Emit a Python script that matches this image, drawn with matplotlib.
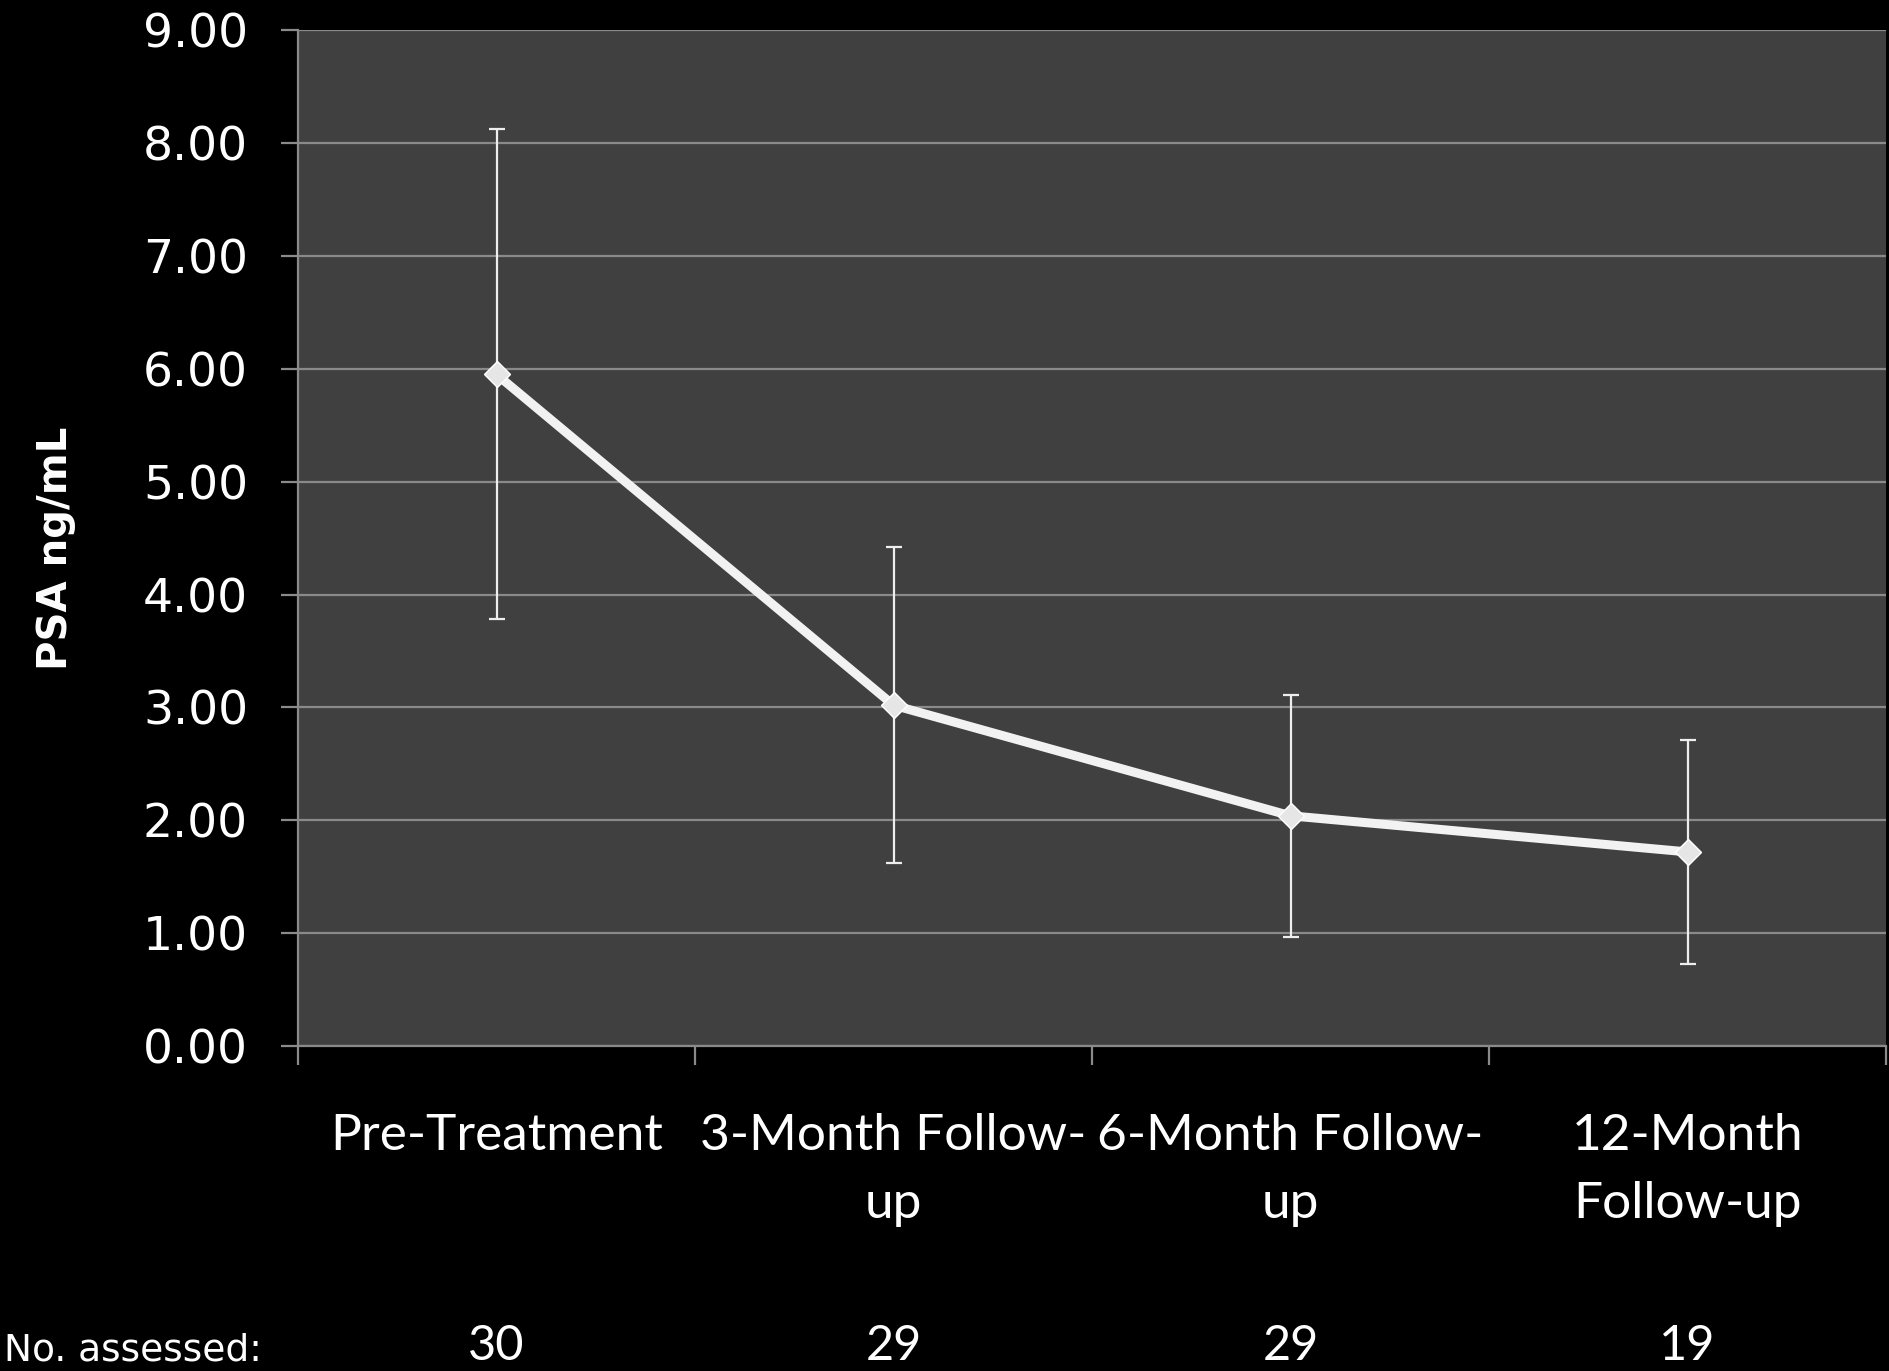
import numpy as np
import matplotlib.pyplot as plt
from matplotlib.transforms import blended_transform_factory

categories = ['Pre-Treatment', '3-Month Follow-\nup', '6-Month Follow-\nup', '12-Month\nFollow-up']
psa_mean = [5.95, 3.02, 2.04, 1.72]
psa_err = [2.17, 1.40, 1.07, 0.99]
n_assessed = ['30', '29', '29', '19']
yticks = [0, 1, 2, 3, 4, 5, 6, 7, 8, 9]

fig = plt.figure(figsize=(18.9, 13.71), dpi=100, facecolor='black')
ax = fig.add_axes([0.1577, 0.237, 0.8402, 0.741])
ax.set_facecolor('#404040')

x = np.arange(len(categories))
ax.errorbar(x, psa_mean, yerr=psa_err, fmt='none', ecolor='#eeeeee',
            elinewidth=1.6, capsize=6, capthick=1.6, zorder=3)
ax.plot(x, psa_mean, color='#f2f2f2', lw=6.5, marker='D', markersize=13,
        markerfacecolor='#e6e6e6', markeredgecolor='#ffffff', zorder=4)

ax.set_xlim(-0.5, len(categories) - 0.5)
ax.set_ylim(0, 9)
ax.set_yticks(yticks)
ax.set_yticklabels(['%.2f' % v for v in yticks])
ax.yaxis.grid(True, color='#8a8a8a', lw=1.6)
ax.set_axisbelow(True)

ax.set_xticks(x)
ax.set_xticklabels(categories, fontfamily='Lato', fontsize=37, color='white',
                   linespacing=1.6)
ax.set_xticks(np.arange(len(categories) + 1) - 0.5, minor=True)
ax.tick_params(axis='x', which='major', length=0, pad=48)
ax.tick_params(axis='x', which='minor', length=14, width=1.6, color='#8a8a8a',
               direction='out')
ax.tick_params(axis='y', length=12, width=1.6, color='#8a8a8a', labelsize=34,
               labelcolor='white', pad=24)

for s in ['top', 'right']:
    ax.spines[s].set_visible(False)
for s in ['left', 'bottom']:
    ax.spines[s].set_color('#8a8a8a')
    ax.spines[s].set_linewidth(1.6)

fig.text(0.0295, 0.6, 'PSA ng/mL', rotation=90, color='white', fontsize=29,
         fontweight='bold', ha='center', va='center')

fig.text(0.002, 0.008, 'No. assessed:', color='white', fontsize=27,
         ha='left', va='baseline')
trans = blended_transform_factory(ax.transData, fig.transFigure)
for xi, n in zip(x, n_assessed):
    ax.text(xi, 0.008, n, transform=trans, color='white', fontfamily='Lato',
            fontsize=35, ha='center', va='baseline', clip_on=False)

fig.savefig('out.png', dpi=100, facecolor='black')
